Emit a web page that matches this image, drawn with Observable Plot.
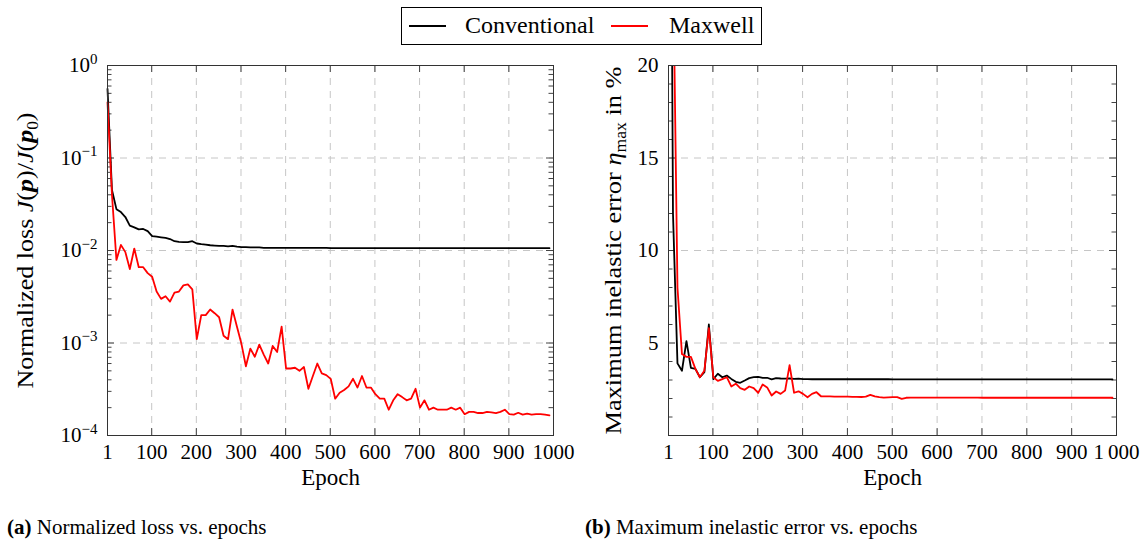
<!DOCTYPE html>
<html><head><meta charset="utf-8">
<script src="https://cdn.jsdelivr.net/npm/d3@7"></script>
<script src="https://cdn.jsdelivr.net/npm/@observablehq/plot@0.6"></script>
<style>
body{margin:0;background:#fff;font-family:"Liberation Serif",serif;color:#000;}
#root{position:relative;width:1147px;height:543px;overflow:hidden;background:#fff;font-family:"Liberation Serif",serif;}
#root svg, #root svg text, #root svg tspan{font-family:"Liberation Serif",serif !important;}
.abs{position:absolute;white-space:nowrap;font-family:"Liberation Serif",serif;}
</style></head><body><div id="root"></div>
<script>
// ---- data (sampled every 10 epochs) ----
const epochs = d3.range(1, 1000, 10);
const seriesNames = ["Conventional", "Maxwell"];
const seriesColors = ["#000000", "#ff0000"];

const lossConventional = [
  0.56, 0.045, 0.028, 0.026, 0.023, 0.0186, 0.0178, 0.0169, 0.0171, 0.0162,
  0.0143, 0.0141, 0.0139, 0.0137, 0.0133, 0.0126, 0.0124, 0.0123, 0.0123, 0.0126,
  0.0119, 0.0117, 0.0116, 0.0114, 0.0113, 0.0112, 0.0112, 0.0111, 0.0112, 0.0110,
  0.0109, 0.0109, 0.0108, 0.0108, 0.0108, 0.0107, 0.0107, 0.0107, 0.0107, 0.0107,
  0.0107, 0.0107, 0.0107, 0.0107, 0.0107, 0.0107, 0.0107, 0.0107, 0.0107, 0.0107,
  0.0106, 0.0106, 0.0106, 0.0106, 0.0106, 0.0106, 0.0106, 0.0106, 0.0106, 0.0106,
  0.0106, 0.0106, 0.0106, 0.0106, 0.0106, 0.0106, 0.0106, 0.0106, 0.0106, 0.0106,
  0.0106, 0.0106, 0.0106, 0.0106, 0.0106, 0.0106, 0.0106, 0.0106, 0.0106, 0.0106,
  0.0106, 0.0106, 0.0106, 0.0106, 0.0106, 0.0106, 0.0106, 0.0106, 0.0106, 0.0106,
  0.0106, 0.0106, 0.0106, 0.0106, 0.0106, 0.0106, 0.0106, 0.0106, 0.0106, 0.0106
];
const lossMaxwell = [
  0.40, 0.040, 0.0079, 0.0115, 0.0096, 0.0063, 0.0105, 0.0066, 0.0066, 0.0057,
  0.0052, 0.0036, 0.0030, 0.0032, 0.0028, 0.0035, 0.0036, 0.0042, 0.0043, 0.0038,
  0.0011, 0.0020, 0.0020, 0.0023, 0.0021, 0.0019, 0.0012, 0.0011, 0.0023, 0.0015,
  0.00098, 0.00056, 0.00087, 0.00071, 0.00096, 0.00075, 0.00060, 0.00093, 0.00080, 0.0015,
  0.00053, 0.00053, 0.00054, 0.00050, 0.00055, 0.00032, 0.00044, 0.00060, 0.00047, 0.00045,
  0.00041, 0.00025, 0.00029, 0.00031, 0.00034, 0.00041, 0.00033, 0.00044, 0.00033, 0.00033,
  0.00028, 0.00025, 0.00025, 0.00019, 0.00024, 0.00028, 0.00026, 0.00024, 0.00025, 0.00032,
  0.00020, 0.00024, 0.00019, 0.00020, 0.00019, 0.00019, 0.00019, 0.00020, 0.00019, 0.00020,
  0.00017, 0.00018, 0.00018, 0.000175, 0.000175, 0.00018, 0.000178, 0.000175, 0.00018, 0.00019,
  0.00017, 0.000168, 0.000176, 0.000168, 0.000172, 0.000168, 0.00017, 0.00017, 0.000168, 0.000165
];
const errorConventional = [
  56, 12, 3.9, 3.5, 5.1, 3.65, 3.6, 3.15, 3.42, 6.0,
  3.05, 3.34, 3.15, 3.24, 3.06, 2.9, 2.85, 2.97, 3.1, 3.15,
  3.17, 3.12, 3.12, 3.03, 3.1, 3.08, 3.07, 3.08, 3.06, 3.07,
  3.05, 3.05, 3.04, 3.04, 3.04, 3.05, 3.04, 3.04, 3.04, 3.04,
  3.04, 3.04, 3.04, 3.04, 3.04, 3.04, 3.04, 3.04, 3.04, 3.04,
  3.03, 3.03, 3.03, 3.03, 3.03, 3.03, 3.03, 3.03, 3.03, 3.03,
  3.03, 3.03, 3.03, 3.03, 3.03, 3.03, 3.03, 3.03, 3.03, 3.03,
  3.03, 3.03, 3.03, 3.03, 3.03, 3.03, 3.03, 3.03, 3.03, 3.03,
  3.03, 3.03, 3.03, 3.03, 3.03, 3.03, 3.03, 3.03, 3.03, 3.03,
  3.03, 3.03, 3.03, 3.03, 3.03, 3.03, 3.03, 3.03, 3.03, 3.03
];
const errorMaxwell = [
  60, 26, 8.0, 4.4, 4.25, 4.25, 3.6, 3.15, 3.5, 5.8,
  3.15, 2.95, 3.05, 3.15, 2.65, 2.8, 2.56, 2.47, 2.65, 2.56,
  2.3, 2.76, 2.6, 2.16, 2.38, 2.25, 2.43, 3.8, 2.31, 2.39,
  2.25, 2.07, 2.25, 2.34, 2.12, 2.11, 2.11, 2.1, 2.1, 2.1,
  2.1, 2.09, 2.09, 2.08, 2.1, 2.2, 2.12, 2.08, 2.05, 2.06,
  2.07, 2.07, 1.98, 2.04, 2.05, 2.05, 2.05, 2.05, 2.05, 2.05,
  2.05, 2.05, 2.05, 2.05, 2.05, 2.05, 2.05, 2.05, 2.05, 2.05,
  2.04, 2.04, 2.04, 2.04, 2.04, 2.04, 2.04, 2.04, 2.04, 2.04,
  2.04, 2.04, 2.04, 2.04, 2.04, 2.04, 2.04, 2.04, 2.04, 2.04,
  2.04, 2.04, 2.04, 2.04, 2.04, 2.04, 2.04, 2.04, 2.04, 2.04
];

// ---- ticks ----
const xTicks = [1, 100, 200, 300, 400, 500, 600, 700, 800, 900, 1000];
const xGrid = [100, 200, 300, 400, 500, 600, 700, 800, 900];
const lossTicks = [1e-4, 1e-3, 1e-2, 1e-1, 1];
const lossGrid = [1e-3, 1e-2, 1e-1];
const lossMinorTicks = [1e-4, 1e-3, 1e-2, 1e-1].flatMap(d => [2,3,4,5,6,7,8,9].map(k => k * d));
const errTicks = [5, 10, 15, 20];
const errGrid = [5, 10, 15];
const errMinorTicks = [1,2,3,4,6,7,8,9,11,12,13,14,16,17,18,19];

const lossData = epochs.flatMap((e, i) => [
  {epoch: e, value: lossConventional[i], series: seriesNames[0]},
  {epoch: e, value: lossMaxwell[i], series: seriesNames[1]}
]);
const errData = epochs.flatMap((e, i) => [
  {epoch: e, value: errorConventional[i], series: seriesNames[0]},
  {epoch: e, value: errorMaxwell[i], series: seriesNames[1]}
]);

const root = document.getElementById("root");
const FH = 370;
const gridStyle = {stroke: "#c6c6c6", strokeOpacity: 1, strokeWidth: 1, strokeDasharray: "7,6"};
const tickStyle = {stroke: "#444", strokeWidth: 1};
const baseStyle = {fontFamily: "Liberation Serif, serif", fontSize: "21px", background: "transparent", color: "#000", overflow: "visible"};

function panel({width, left, right, yScale, yTicks, yGrid, yMinor, data, xFormat, yFormat, ylabDx, clip}) {
  const FW = width - left - right;
  const marks = [
    Plot.gridX(xGrid, gridStyle),
    Plot.gridY(yGrid, gridStyle),
    Plot.tickX(xTicks, {x: d => d, ...tickStyle, insetTop: FH - 7}),
    Plot.tickX(xTicks, {x: d => d, ...tickStyle, insetBottom: FH - 7}),
    Plot.tickY(yTicks, {y: d => d, ...tickStyle, insetRight: FW - 7}),
    Plot.tickY(yTicks, {y: d => d, ...tickStyle, insetLeft: FW - 7}),
    Plot.tickY(yMinor, {y: d => d, ...tickStyle, insetRight: FW - 4.5}),
    Plot.tickY(yMinor, {y: d => d, ...tickStyle, insetLeft: FW - 4.5}),
    Plot.line(data.filter(d => d.series === seriesNames[0]), {x: "epoch", y: "value", stroke: seriesColors[0], strokeWidth: 1.8, clip}),
    Plot.line(data.filter(d => d.series === seriesNames[1]), {x: "epoch", y: "value", stroke: seriesColors[1], strokeWidth: 1.8, clip}),
    Plot.frame({stroke: "#333", strokeWidth: 1}),
    Plot.axisX(xTicks, {tickSize: 0, tickPadding: 9, label: null, tickFormat: xFormat}),
    Plot.axisY(yTicks, {tickSize: 0, tickPadding: 10, label: null, tickFormat: yFormat}),
    Plot.text(["Epoch"], {frameAnchor: "bottom", text: d => d, dy: 49, fontSize: 23}),
    Plot.text(["YLABEL"], {frameAnchor: "left", text: d => d, dx: ylabDx, rotate: -90, fontSize: 24, textAnchor: "middle"})
  ];
  return Plot.plot({
    width, height: 500, marginLeft: left, marginRight: right, marginTop: 65, marginBottom: 65,
    style: baseStyle,
    x: {type: "linear", domain: [1, 1000]},
    y: yScale,
    marks
  });
}

const leftPlot = panel({
  width: 580, left: 107, right: 27,
  yScale: {type: "log", domain: [1e-4, 1]},
  yTicks: lossTicks, yGrid: lossGrid, yMinor: lossMinorTicks,
  data: lossData, xFormat: d => String(d),
  yFormat: d => "E" + String(Math.round(Math.log10(d))),
  ylabDx: -82, clip: false
});
leftPlot.style.position = "absolute"; leftPlot.style.left = "0px"; leftPlot.style.top = "0px";
root.appendChild(leftPlot);

const rightPlot = panel({
  width: 567, left: 88, right: 31,
  yScale: {type: "linear", domain: [0, 20]},
  yTicks: errTicks, yGrid: errGrid, yMinor: errMinorTicks,
  data: errData, xFormat: d => d === 1000 ? "1\u2009000" : String(d),
  yFormat: d => String(d),
  ylabDx: -55, clip: true
});
rightPlot.style.position = "absolute"; rightPlot.style.left = "580px"; rightPlot.style.top = "0px";
root.appendChild(rightPlot);

// superscript exponents on the log axis and rich y labels
d3.select(leftPlot).selectAll("text").each(function() {
  const t = this.textContent;
  if (/^E-?\d+$/.test(t)) {
    const e = t.slice(1).replace("-", "\u2212");
    this.innerHTML = `10<tspan dy="-0.55em" font-size="15">${e}</tspan>`;
  } else if (t === "YLABEL") {
    this.innerHTML = 'Normalized loss <tspan font-style="italic">J</tspan>(<tspan font-style="italic" font-weight="bold">p</tspan>)/<tspan font-style="italic">J</tspan>(<tspan font-style="italic" font-weight="bold">p</tspan><tspan font-size="16" dy="5">0</tspan><tspan dy="-5">)</tspan>';
    this.setAttribute("text-anchor", "middle");
    this.setAttribute("textLength", "276");
    this.setAttribute("lengthAdjust", "spacingAndGlyphs");
  }
});
d3.select(rightPlot).selectAll("text").each(function() {
  if (this.textContent === "YLABEL") {
    this.innerHTML = 'Maximum inelastic error <tspan font-style="italic">η</tspan><tspan font-size="16" dy="5">max</tspan><tspan dy="-5"> in %</tspan>';
    this.setAttribute("text-anchor", "middle");
    this.setAttribute("textLength", "368");
    this.setAttribute("lengthAdjust", "spacingAndGlyphs");
  }
});

// legend
const legend = document.createElement("div");
legend.className = "abs";
legend.style.cssText = "position:absolute;left:401px;top:7px;width:359px;height:36px;border:1px solid #000;font-size:24px;font-family:'Liberation Serif',serif;";
legend.innerHTML =
  `<div class="abs" style="left:7px;top:17px;width:37px;height:2px;background:${seriesColors[0]}"></div>` +
  `<div class="abs" style="left:63px;top:4px;line-height:26px">${seriesNames[0]}</div>` +
  `<div class="abs" style="left:209px;top:17px;width:37px;height:2px;background:${seriesColors[1]}"></div>` +
  `<div class="abs" style="left:267px;top:4px;line-height:26px">${seriesNames[1]}</div>`;
root.appendChild(legend);

// captions
const capA = document.createElement("div");
capA.className = "abs";
capA.style.cssText = "position:absolute;left:7px;top:515px;font-size:21px;line-height:24px;";
capA.innerHTML = "<b>(a)</b> Normalized loss vs. epochs";
root.appendChild(capA);
const capB = document.createElement("div");
capB.className = "abs";
capB.style.cssText = "position:absolute;left:585px;top:515px;font-size:21px;line-height:24px;";
capB.innerHTML = "<b>(b)</b> Maximum inelastic error vs. epochs";
root.appendChild(capB);
</script>
</body></html>
